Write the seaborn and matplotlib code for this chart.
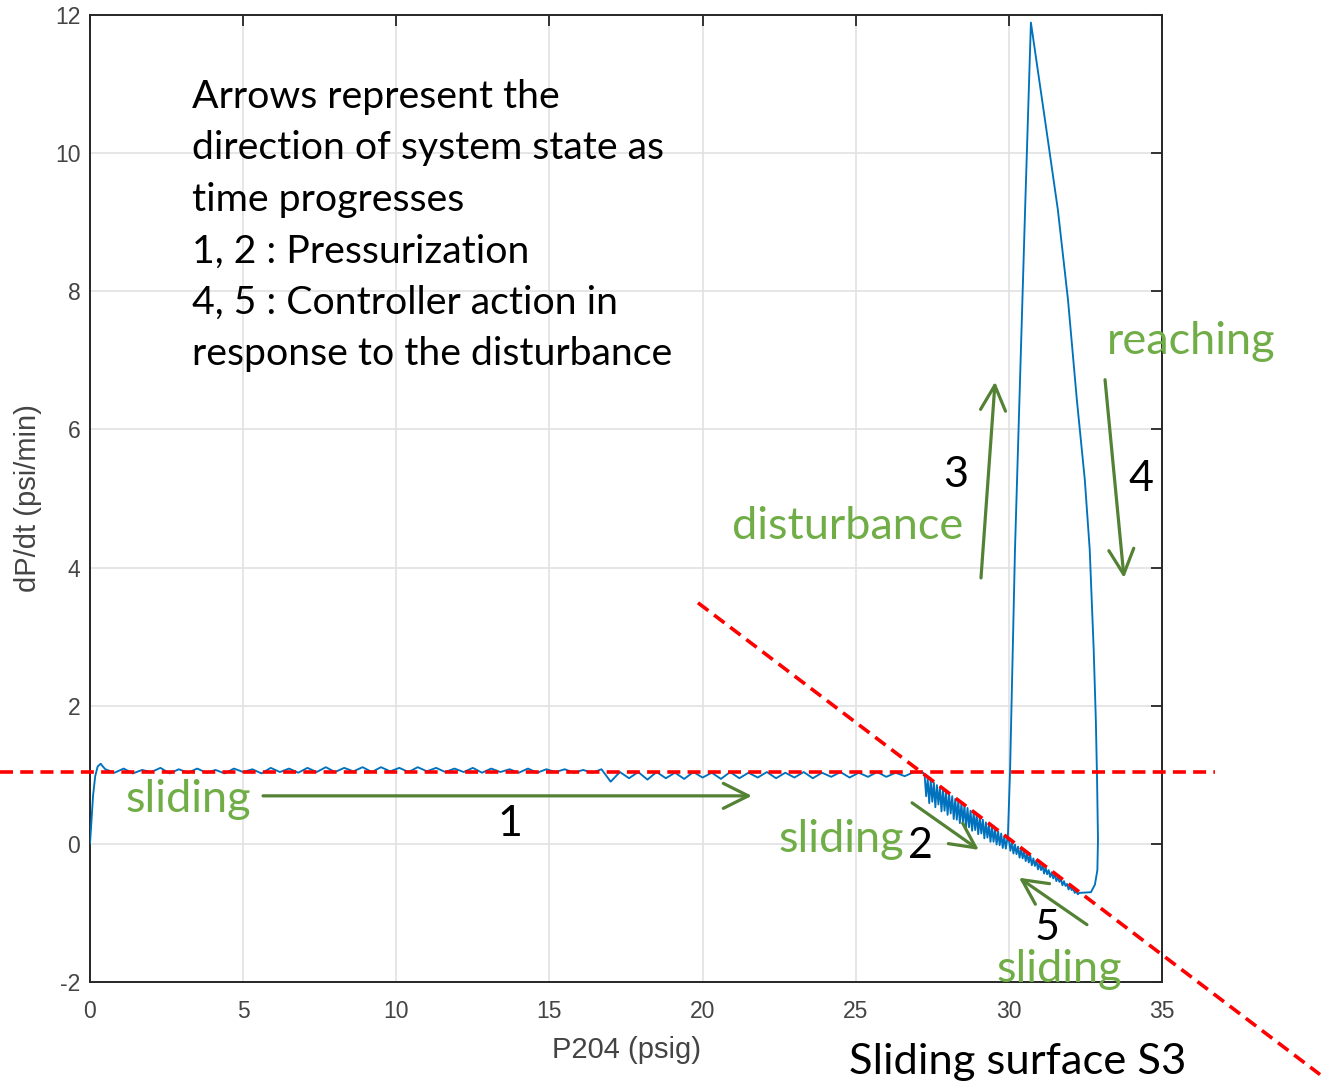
import numpy as np
import pandas as pd
import matplotlib
matplotlib.use("Agg")
import matplotlib.pyplot as plt
import seaborn as sns

W, H = 1322, 1081

# ---- trajectory (P204 vs dP/dt) ----
# start-up
rise_p = [0.0, 0.05, 0.10, 0.17, 0.25, 0.35, 0.42]
rise_d = [0.0, 0.35, 0.70, 0.98, 1.12, 1.16, 1.12]

# sliding on the level surface (phase 1)
flat_p = [0.5, 0.8, 1.1, 1.4, 1.7, 2.0, 2.3, 2.6, 2.9, 3.2,
          3.5, 3.8, 4.1, 4.4, 4.7, 5.0, 5.3, 5.6, 5.9, 6.2,
          6.5, 6.8, 7.1, 7.4, 7.7, 8.0, 8.3, 8.6, 8.9, 9.2,
          9.5, 9.8, 10.1, 10.4, 10.7, 11.0, 11.3, 11.6, 11.9, 12.2,
          12.5, 12.8, 13.1, 13.4, 13.7, 14.0, 14.3, 14.6, 14.9, 15.2,
          15.5, 15.8, 16.1, 16.4, 16.7, 17.0, 17.3, 17.6, 17.9, 18.2,
          18.5, 18.8, 19.1, 19.4, 19.7, 20.0, 20.3, 20.6, 20.9, 21.2,
          21.5, 21.8, 22.1, 22.4, 22.7, 23.0, 23.3, 23.6, 23.9, 24.2,
          24.5, 24.8, 25.1, 25.4, 25.7, 26.0, 26.3, 26.6, 26.9, 27.2]
flat_d = [1.08, 1.03, 1.09, 1.02, 1.07, 1.04, 1.10, 1.02, 1.08, 1.03,
          1.09, 1.03, 1.07, 1.02, 1.09, 1.04, 1.08, 1.02, 1.10, 1.04,
          1.09, 1.03, 1.10, 1.04, 1.11, 1.04, 1.10, 1.05, 1.11, 1.04,
          1.11, 1.05, 1.10, 1.04, 1.11, 1.05, 1.10, 1.04, 1.09, 1.04,
          1.10, 1.03, 1.09, 1.04, 1.08, 1.03, 1.09, 1.03, 1.08, 1.04,
          1.08, 1.03, 1.07, 1.03, 1.08, 0.90, 1.04, 0.95, 1.04, 0.93,
          1.04, 0.95, 1.03, 0.94, 1.04, 0.96, 1.03, 0.94, 1.04, 0.95,
          1.03, 0.96, 1.04, 0.95, 1.03, 0.96, 1.04, 0.95, 1.03, 0.97,
          1.04, 0.96, 1.03, 0.97, 1.04, 0.97, 1.03, 0.98, 1.04, 1.03]

# chattering down the sliding surface S3 (phase 2)
slide_p = [27.25, 27.30, 27.35, 27.40, 27.45, 27.50, 27.55, 27.60, 27.65, 27.70,
           27.75, 27.80, 27.85, 27.90, 27.95, 28.00, 28.05, 28.10, 28.15, 28.20,
           28.25, 28.30, 28.35, 28.40, 28.45, 28.50, 28.55, 28.60, 28.65, 28.70,
           28.75, 28.80, 28.85, 28.90, 28.95, 29.00, 29.05, 29.10, 29.15, 29.20,
           29.25, 29.30, 29.35, 29.40, 29.45, 29.50, 29.55, 29.60, 29.65, 29.70,
           29.75, 29.80, 29.85, 29.90, 29.95]
slide_d = [0.99, 0.69, 0.95, 0.59, 0.92, 0.61, 0.89, 0.53, 0.85, 0.57,
           0.82, 0.47, 0.79, 0.48, 0.75, 0.42, 0.72, 0.44, 0.69, 0.36,
           0.65, 0.35, 0.62, 0.30, 0.58, 0.32, 0.55, 0.24, 0.52, 0.24,
           0.48, 0.19, 0.45, 0.20, 0.42, 0.14, 0.38, 0.15, 0.35, 0.08,
           0.31, 0.09, 0.28, 0.03, 0.25, 0.03, 0.21, -0.01, 0.18, -0.02,
           0.15, -0.06, 0.11, -0.07, 0.08]

# disturbance loop (phases 3 and 4)
loop_p = [29.97, 30.04, 30.20, 30.53, 30.72, 31.18, 31.60, 31.93, 32.22,
          32.48, 32.64, 32.77, 32.84, 32.88, 32.91, 32.89, 32.81, 32.68]
loop_d = [0.13, 1.07, 4.26, 9.18, 11.89, 10.48, 9.18, 7.88, 6.43,
          5.27, 4.26, 2.81, 1.79, 0.93, 0.06, -0.38, -0.59, -0.70]

# back up the sliding surface (phase 5)
back_p = [32.30, 32.25, 32.20, 32.15, 32.10, 32.05, 32.00, 31.95, 31.90, 31.85,
          31.80, 31.75, 31.70, 31.65, 31.60, 31.55, 31.50, 31.45, 31.40, 31.35,
          31.30, 31.25, 31.20, 31.15, 31.10, 31.05, 31.00, 30.95, 30.90, 30.85,
          30.80, 30.75, 30.70, 30.65, 30.60, 30.55, 30.50, 30.45, 30.40, 30.35,
          30.30, 30.25, 30.20, 30.15, 30.10, 30.05, 30.00]
back_d = [-0.71, -0.73, -0.68, -0.71, -0.65, -0.67, -0.61, -0.66, -0.58, -0.61,
          -0.54, -0.60, -0.51, -0.55, -0.48, -0.54, -0.44, -0.50, -0.41, -0.48,
          -0.38, -0.44, -0.34, -0.43, -0.31, -0.38, -0.28, -0.37, -0.24, -0.32,
          -0.21, -0.31, -0.17, -0.27, -0.14, -0.25, -0.11, -0.21, -0.07, -0.20,
          -0.04, -0.15, -0.01, -0.14, 0.03, -0.10, 0.06]

# red dashed reference lines (extend past the axes)
level_p = [-2.94, 36.73]
level_d = [1.042, 1.042]
surface_p = [19.85, 40.16]
surface_d = [3.49, -3.34]

# green direction arrows: (start, end) in data units
arrows = [((5.65, 0.695), (21.61, 0.695)),
          ((26.84, 0.594), (29.02, -0.087)),
          ((29.09, 3.85), (29.55, 6.69)),
          ((33.14, 6.72), (33.76, 3.85)),
          ((32.55, -1.17), (30.33, -0.49))]

note_lines = ["Arrows represent the",
              "direction of system state as",
              "time progresses",
              "1, 2 : Pressurization",
              "4, 5 : Controller action in",
              "response to the disturbance"]

# ---- figure ----
sns.set_theme(style="white")
plt.rcParams['font.family'] = ['Liberation Sans', 'DejaVu Sans']
plt.rcParams['axes.unicode_minus'] = False

fig = plt.figure(figsize=(W / 100, H / 100), dpi=100)
ax = fig.add_axes([90 / W, 1 - 982 / H, (1162 - 90) / W, (982 - 15) / H])

traj = pd.DataFrame({
    "P204": rise_p + flat_p + slide_p + loop_p + back_p,
    "dPdt": rise_d + flat_d + slide_d + loop_d + back_d,
})
sns.lineplot(data=traj, x="P204", y="dPdt", sort=False, estimator=None,
             color="#0072BD", lw=1.35, ax=ax, zorder=3)

ax.set_xlim(0, 35)
ax.set_ylim(-2, 12)
ax.set_xticks(range(0, 36, 5))
ax.set_yticks(range(-2, 13, 2))
ax.grid(True, color="#e2e2e2", lw=1.2)
ax.set_axisbelow(True)
for s in ax.spines.values():
    s.set_color("#262626")
    s.set_linewidth(1.4)
ax.tick_params(direction="in", length=8, width=1.3, top=True, right=True,
               labelsize=16.5, labelcolor="#444444", color="#262626")
ax.tick_params(axis="x", pad=13)
ax.tick_params(axis="y", pad=7)
ax.set_xlabel("P204 (psig)", fontsize=21, color="#444444", labelpad=9)
ax.set_ylabel("dP/dt (psi/min)", fontsize=21, color="#444444", labelpad=9)

dash = (0, (3.6, 2.0))
ax.plot(level_p, level_d, color="red", lw=2.6, ls=dash, clip_on=False, zorder=5)
ax.plot(surface_p, surface_d, color="red", lw=2.6, ls=dash, clip_on=False, zorder=5)

for start, end in arrows:
    ax.annotate("", xy=end, xytext=start, annotation_clip=False,
                arrowprops=dict(arrowstyle="->,head_length=0.9,head_width=0.45",
                                color="#548235", lw=2.3, shrinkA=0, shrinkB=0,
                                mutation_scale=20))


def put(x, y, s, **kw):
    fig.text(x / W, 1 - y / H, s, family=["Lato", "DejaVu Sans"], **kw)


for i, line in enumerate(note_lines):
    put(192, 108 + 51.5 * i, line, fontsize=28.3, va="baseline", ha="left", color="black")

green = "#70AD47"
put(1191, 354, "reaching", fontsize=32.5, color=green, ha="center", va="baseline")
put(848, 539, "disturbance", fontsize=32.5, color=green, ha="center", va="baseline")
put(188, 812, "sliding", fontsize=32.5, color=green, ha="center", va="baseline")
put(841, 852, "sliding", fontsize=32.5, color=green, ha="center", va="baseline")
put(1059, 982, "sliding", fontsize=32.5, color=green, ha="center", va="baseline")

for x, y, s in [(956, 487, "3"), (1141, 491, "4"), (510, 836, "1"),
                (920, 858, "2"), (1047, 940, "5")]:
    put(x, y, s, fontsize=31, color="black", ha="center", va="baseline")

put(1018, 1074, "Sliding surface S3", fontsize=31.3, color="black", ha="center", va="baseline")

fig.savefig("out.png", dpi=100)
